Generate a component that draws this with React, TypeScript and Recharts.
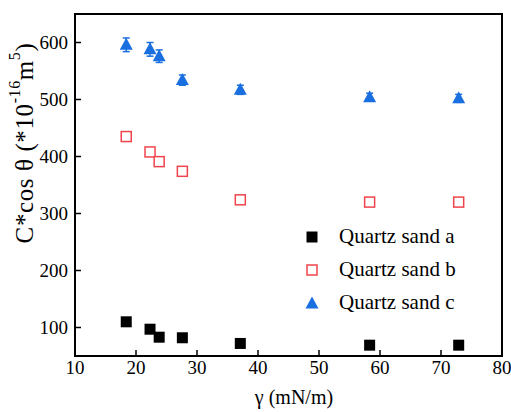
import React from 'react';
import { ScatterChart, Scatter, XAxis, YAxis, ErrorBar, ReferenceArea, Legend } from 'recharts';

const gamma = [18.4, 22.3, 23.8, 27.6, 37.1, 58.3, 72.9];
const sandA = [110, 97, 83, 82, 72, 69, 69];
const sandB = [435, 408, 391, 374, 324, 320, 320];
const errB = [7, 5, 3, 3, 3, 2, 2];
const sandC = [596, 588, 576, 534, 517, 504, 502];
const errC = [12, 12, 11, 9, 8, 7, 7];

const xTicks = [10, 20, 30, 40, 50, 60, 70, 80];
const yTicks = [100, 200, 300, 400, 500, 600];

const FONT = "'Liberation Serif', Tinos, Times, 'DejaVu Serif', serif";

const toRows = (ys: number[], errs?: number[]) =>
  gamma.map((x, i) => ({ x, y: ys[i], err: errs ? errs[i] : 0 }));

const dataA = toRows(sandA);
const dataB = toRows(sandB, errB);
const dataC = toRows(sandC, errC);

const BLACK = '#000000';
const RED = '#f0444c';
const BLUE = '#1a6fe0';

function FilledSquare(props: any) {
  const { cx, cy } = props;
  return <rect x={cx - 5.5} y={cy - 5.5} width={11} height={11} fill={BLACK} />;
}

function OpenSquare(props: any) {
  const { cx, cy } = props;
  return <rect x={cx - 5} y={cy - 5} width={10} height={10} fill="#fff" stroke={RED} strokeWidth={1.5} />;
}

function Triangle(props: any) {
  const { cx, cy } = props;
  return <path d={`M${cx},${cy - 7} L${cx + 6.5},${cy + 5} L${cx - 6.5},${cy + 5} Z`} fill={BLUE} />;
}

const series = [
  { name: 'Quartz sand a', marker: 'a' },
  { name: 'Quartz sand b', marker: 'b' },
  { name: 'Quartz sand c', marker: 'c' },
];

function LegendMarker({ kind }: { kind: string }) {
  return (
    <svg width={16} height={16} style={{ display: 'block' }}>
      {kind === 'a' && <rect x={2.5} y={2.5} width={11} height={11} fill={BLACK} />}
      {kind === 'b' && <rect x={3} y={3} width={10} height={10} fill="#fff" stroke={RED} strokeWidth={1.5} />}
      {kind === 'c' && <path d="M8,1.5 L14.5,13.5 L1.5,13.5 Z" fill={BLUE} />}
    </svg>
  );
}

function LegendBox() {
  return (
    <div style={{ fontFamily: FONT, fontSize: 21, color: '#000' }}>
      {series.map((s) => (
        <div key={s.name} style={{ display: 'flex', alignItems: 'center', height: 33 }}>
          <LegendMarker kind={s.marker} />
          <span style={{ marginLeft: 19 }}>{s.name}</span>
        </div>
      ))}
    </div>
  );
}

function YLabel() {
  return (
    <text
      x={24}
      y={143}
      transform="rotate(-90 24 143)"
      textAnchor="middle"
      dominantBaseline="central"
      style={{ fontFamily: FONT, letterSpacing: 0.6 }}
      fontSize={25}
      fill="#000"
    >
      C*cos θ (*10
      <tspan fontSize={16} dy={-10}>-16</tspan>
      <tspan dy={10}>m</tspan>
      <tspan fontSize={16} dy={-10}>5</tspan>
      <tspan dy={10}>)</tspan>
    </text>
  );
}

function XLabel() {
  return (
    <text x={294} y={404} textAnchor="middle" style={{ fontFamily: FONT }} fontSize={20} fill="#000">
      γ (mN/m)
    </text>
  );
}

export default function App() {
  return (
    <div style={{ width: 511, height: 412, background: '#fff', fontFamily: FONT }}>
      <style>{`body{margin:0}`}</style>
      <ScatterChart width={511} height={412} margin={{ top: 14, right: 9, left: 0, bottom: 0 }}>
        <XAxis
          type="number"
          dataKey="x"
          domain={[10, 80]}
          ticks={xTicks}
          interval={0}
          height={56}
          tickSize={-6}
          tickMargin={11}
          axisLine={{ stroke: '#000', strokeWidth: 2 }}
          tickLine={{ stroke: '#000', strokeWidth: 1.5 }}
          tick={{ fill: '#000', fontSize: 19, style: { fontFamily: FONT } }}
          label={<XLabel />}
        />
        <YAxis
          type="number"
          dataKey="y"
          domain={[50, 650]}
          ticks={yTicks}
          interval={0}
          width={75}
          tickSize={-6}
          tickMargin={13}
          axisLine={{ stroke: '#000', strokeWidth: 2 }}
          tickLine={{ stroke: '#000', strokeWidth: 1.5 }}
          tick={{ fill: '#000', fontSize: 19, style: { fontFamily: FONT } }}
          label={<YLabel />}
        />
        <ReferenceArea x1={10} x2={80} y1={50} y2={650} fill="none" stroke="#000" strokeWidth={2} ifOverflow="visible" />
        <Scatter name="Quartz sand a" data={dataA} shape={<FilledSquare />} isAnimationActive={false} />
        <Scatter name="Quartz sand b" data={dataB} shape={<OpenSquare />} isAnimationActive={false}>
          <ErrorBar dataKey="err" direction="y" width={3.5} stroke={RED} strokeWidth={1.2} />
        </Scatter>
        <Scatter name="Quartz sand c" data={dataC} shape={<Triangle />} isAnimationActive={false}>
          <ErrorBar dataKey="err" direction="y" width={3.5} stroke={BLUE} strokeWidth={1.5} />
        </Scatter>
        <Legend
          layout="vertical"
          align="center"
          verticalAlign="middle"
          content={<LegendBox />}
          wrapperStyle={{ position: 'absolute', left: 304, top: 220, width: 210, height: 100 }}
        />
      </ScatterChart>
    </div>
  );
}
